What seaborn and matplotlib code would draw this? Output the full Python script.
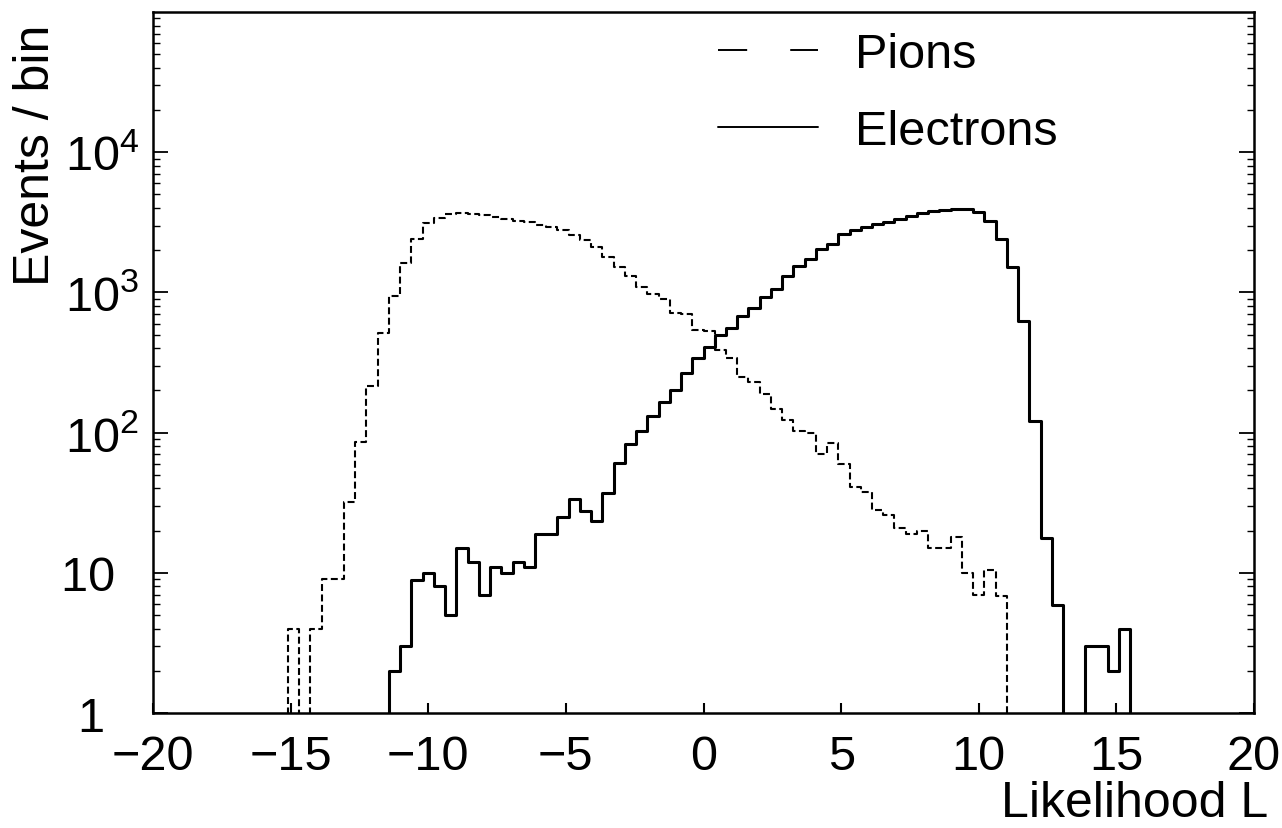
import numpy as np
import pandas as pd
import matplotlib
matplotlib.use("Agg")
import matplotlib.pyplot as plt
from matplotlib.lines import Line2D
from matplotlib import ticker
import seaborn as sns

# ---------------- data ----------------
X_MIN, X_MAX, N_BINS = -20.0, 20.0, 98
PION_FIRST_BIN = 12
ELECTRON_FIRST_BIN = 21

pion_counts = [4, 0, 4, 9, 9, 32, 85, 214, 515, 950, 1630, 2420, 3120, 3400,
               3600, 3700, 3640, 3540, 3460, 3320, 3210, 3170, 3050, 2930,
               2800, 2560, 2350, 2120, 1790, 1510, 1300, 1095, 977, 899, 708,
               697, 540, 530, 391, 343, 251, 228, 189, 148, 124, 102, 99, 70,
               84, 60, 41, 38, 28, 26, 21, 19, 20, 15, 15, 18, 10, 7, 10.5,
               6.8]

electron_counts = [2, 3, 8.9, 10, 8, 5, 15, 12, 7, 11, 10, 12, 11, 19, 19, 25,
                   33.7, 27.6, 23.3, 37, 61, 83, 102, 131, 164, 200, 265, 343,
                   407, 496, 555, 677, 780, 925, 1065, 1300, 1535, 1720, 2035,
                   2220, 2630, 2790, 2930, 3100, 3170, 3320, 3500, 3700, 3800,
                   3900, 3950, 3950, 3760, 3220, 2420, 1510, 630, 120, 17.7,
                   5.9, 0, 0, 3, 3, 2, 4]

x_ticks = [-20, -15, -10, -5, 0, 5, 10, 15, 20]
y_ticks = [1, 10, 100, 1000, 10000]
y_tick_labels = ["1\u2002\u2009", "10\u2002", r"$\mathregular{10^{2}}$",
                 r"$\mathregular{10^{3}}$", r"$\mathregular{10^{4}}$"]
legend_labels = ["Pions", "Electrons"]
x_label = "Likelihood L"
y_label = "Events / bin"

# ---------------- style ----------------
sns.set_style("ticks")
plt.rcParams["font.family"] = ["Liberation Sans", "DejaVu Sans"]
plt.rcParams["mathtext.fontset"] = "custom"
plt.rcParams["mathtext.rm"] = "Liberation Sans"
plt.rcParams["lines.scale_dashes"] = False
plt.rcParams["axes.unicode_minus"] = True
for key in ["text.color", "axes.labelcolor", "xtick.color", "ytick.color",
            "axes.edgecolor"]:
    plt.rcParams[key] = "black"

edges = np.linspace(X_MIN, X_MAX, N_BINS + 1)
centers = 0.5 * (edges[:-1] + edges[1:])


def full(counts, first):
    arr = np.zeros(N_BINS)
    arr[first:first + len(counts)] = counts
    return arr


df = pd.DataFrame({
    "L": np.concatenate([centers, centers]),
    "n": np.concatenate([full(pion_counts, PION_FIRST_BIN),
                         full(electron_counts, ELECTRON_FIRST_BIN)]),
    "species": ["Pions"] * N_BINS + ["Electrons"] * N_BINS,
})

W, H = 1282, 829
fig = plt.figure(figsize=(W / 100, H / 100), dpi=100)
ax = fig.add_axes([153 / W, 1 - 714 / H, (1254 - 153) / W, (714 - 13) / H])

sns.histplot(data=df[df.species == "Pions"], x="L", weights="n",
             bins=N_BINS, binrange=(X_MIN, X_MAX),
             element="step", fill=False, color="black", linewidth=1.5,
             linestyle=(0, (5, 2.5)), ax=ax)
sns.histplot(data=df[df.species == "Electrons"], x="L", weights="n",
             bins=N_BINS, binrange=(X_MIN, X_MAX),
             element="step", fill=False, color="black", linewidth=2.2, ax=ax)

ax.set_yscale("log")
ax.set_xlim(X_MIN, X_MAX)
ax.set_ylim(1, 1e5)
ax.set_xlabel("")
ax.set_ylabel("")

ax.set_xticks(x_ticks)
ax.set_yticks(y_ticks)
ax.set_yticklabels(y_tick_labels)
ax.yaxis.set_minor_locator(ticker.LogLocator(base=10, subs=np.arange(2, 10) * 1.0, numticks=100))
ax.yaxis.set_minor_formatter(ticker.NullFormatter())
ax.xaxis.set_minor_locator(ticker.NullLocator())

ax.tick_params(axis="x", which="major", direction="in", length=7, width=1.5,
               labelsize=35, pad=15, top=False, bottom=True)
ax.tick_params(axis="y", which="major", direction="in", length=11, width=1.3,
               labelsize=35, pad=10, left=True, right=True)
ax.tick_params(axis="y", which="minor", direction="in", length=5, width=1.0,
               left=True, right=True)
for s in ax.spines.values():
    s.set_visible(True)
    s.set_linewidth(1.8)
    s.set_color("black")

h_p = Line2D([], [], color="black", lw=1.4, linestyle=(0, (21, 31)))
h_e = Line2D([], [], color="black", lw=1.4)
ax.legend([h_p, h_e], legend_labels, loc="upper left",
          bbox_to_anchor=(718 / W, 1 - 33 / H), bbox_transform=fig.transFigure,
          frameon=False, fontsize=35, handlelength=2.06, handletextpad=0.76,
          borderpad=0, borderaxespad=0, labelspacing=0.65)

fig.text(1268 / W, 1 - 804 / H, x_label, ha="right", va="center", fontsize=36)
fig.text(36 / W, 1 - 155 / H, y_label, rotation=90, ha="center", va="center",
         fontsize=36)

fig.savefig("out.png", dpi=100)
